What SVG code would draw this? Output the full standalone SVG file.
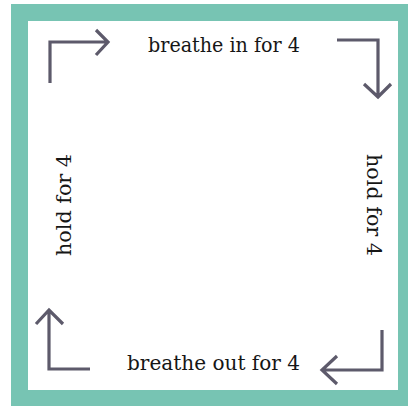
<svg xmlns="http://www.w3.org/2000/svg" width="408" height="406" viewBox="0 0 408 406">
<defs>
<style>
.frame{fill:#77c4b3}
.inner{fill:#ffffff}
.arrow{fill:none;stroke:#5d5a6b;stroke-width:3.2;stroke-linecap:butt;stroke-linejoin:miter}
.lbl{font-family:"DejaVu Serif","Liberation Serif",serif;font-size:20px;fill:#161616;text-anchor:middle}
</style>
</defs>
<rect width="408" height="406" fill="#ffffff"/>
<g id="frame">
<rect class="frame" x="11" y="4" width="397" height="402"/>
<rect class="inner" x="28" y="21" width="370" height="369"/>
</g>
<g id="connectors">
<path class="arrow" d="M50,83 V42 H108 M96,30 L108,42 L96,55"/>
<path class="arrow" d="M337,40 H378 V97 M364,84 L378,97 L391,84"/>
<path class="arrow" d="M90,369 H49 V310 M36,324 L49,310 L63,324"/>
<path class="arrow" d="M382,330 V370 H322 M337,356 L322,370 L337,384"/>
</g>
<g id="breathe-in"><text class="lbl" x="224" y="52" textLength="152" lengthAdjust="spacingAndGlyphs">breathe in for 4</text></g>
<g id="hold-right"><text class="lbl" transform="translate(367,205) rotate(90)" textLength="102" lengthAdjust="spacingAndGlyphs">hold for 4</text></g>
<g id="breathe-out"><text class="lbl" x="213.5" y="370" textLength="173" lengthAdjust="spacingAndGlyphs">breathe out for 4</text></g>
<g id="hold-left"><text class="lbl" transform="translate(71,205) rotate(-90)" textLength="102" lengthAdjust="spacingAndGlyphs">hold for 4</text></g>
</svg>
